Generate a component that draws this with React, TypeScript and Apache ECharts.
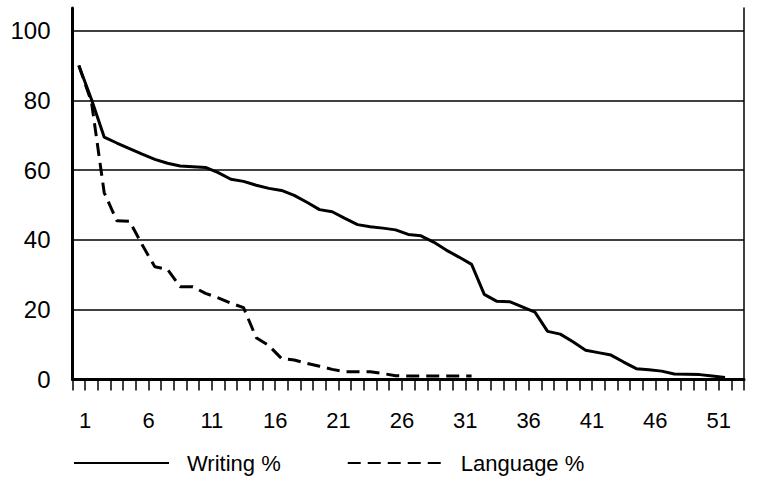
import { useEffect, useRef } from 'react';
import * as echarts from 'echarts';

// Rank positions 1..N, values in percent
const writingPct = [
  90, 80.3, 69.5, 67.8, 66.2, 64.6, 63.1, 62.0, 61.2, 61.0,
  60.8, 59.3, 57.4, 56.8, 55.7, 54.8, 54.2, 52.8, 50.8, 48.7,
  48.1, 46.2, 44.4, 43.8, 43.4, 42.9, 41.6, 41.2, 39.4, 37.1,
  35.1, 33.0, 24.4, 22.4, 22.3, 20.8, 19.3, 13.8, 13.0, 10.8,
  8.4, 7.7, 7.0, 5.0, 3.1, 2.8, 2.4, 1.6, 1.5, 1.4,
  1.0, 0.6,
];

const languagePct = [
  90, 79.5, 53.6, 45.5, 45.4, 38.6, 32.3, 31.6, 26.6, 26.6,
  24.7, 23.4, 21.9, 20.6, 12.0, 9.7, 6.0, 5.6, 4.6, 3.8,
  2.9, 2.2, 2.2, 2.2, 1.7, 1.1, 1.0, 1.0, 1.0, 1.0,
  1.0, 1.0,
];

const xTickLabels = [1, 6, 11, 16, 21, 26, 31, 36, 41, 46, 51];
const categoryCount = 53;
const seriesNames = ['Writing %', 'Language %'];

const FONT = '"Liberation Sans", Arial, Helvetica, sans-serif';

export default function App() {
  const ref = useRef<HTMLDivElement>(null);

  useEffect(() => {
    if (!ref.current) return;
    const chart = echarts.init(ref.current, null, { renderer: 'svg' });
    const toPairs = (vals: number[]) => vals.map((v, i) => [i + 0.5, v]);

    chart.setOption({
      animation: false,
      backgroundColor: '#ffffff',
      textStyle: { fontFamily: FONT, color: '#000' },
      grid: [
        { left: 72.5, right: 15, top: 30.7, bottom: 97.5 },
        { left: 72.5, right: 15, top: 8, bottom: 97.5 },
      ],
      xAxis: [
        {
          gridIndex: 0,
          type: 'value',
          min: 0,
          max: categoryCount,
          interval: 1,
          axisLine: { show: true, onZero: false, lineStyle: { color: '#000', width: 3 } },
          axisTick: { show: true, length: 11, lineStyle: { color: '#000', width: 1.5 } },
          splitLine: { show: false },
          axisLabel: {
            show: true,
            fontSize: 22,
            fontFamily: FONT,
            color: '#000',
            margin: 30,
            showMinLabel: true,
            showMaxLabel: true,
            hideOverlap: false,
            formatter: (v: number) => (xTickLabels.includes(Math.round(v)) ? String(Math.round(v)) : ''),
          },
        },
        { gridIndex: 1, type: 'value', min: 0, max: categoryCount, show: false },
      ],
      yAxis: [
        {
          gridIndex: 0,
          type: 'value',
          min: 0,
          max: 100,
          interval: 20,
          axisLine: { show: false },
          axisTick: { show: false },
          splitLine: { show: true, lineStyle: { color: '#000', width: 1.5 } },
          axisLabel: { fontSize: 24, fontFamily: FONT, color: '#000', margin: 22 },
        },
        {
          gridIndex: 1,
          type: 'value',
          min: 0,
          max: 1,
          position: 'left',
          axisLine: { show: true, lineStyle: { color: '#000', width: 3 } },
          axisTick: { show: false },
          axisLabel: { show: false },
          splitLine: { show: false },
        },
        {
          gridIndex: 1,
          type: 'value',
          min: 0,
          max: 1,
          position: 'right',
          axisLine: { show: true, lineStyle: { color: '#000', width: 1.5 } },
          axisTick: { show: false },
          axisLabel: { show: false },
          splitLine: { show: false },
        },
      ],
      legend: {
        data: seriesNames,
        left: 73,
        top: 452,
        padding: 0,
        itemWidth: 95,
        itemHeight: 14,
        itemGap: 66,
        itemStyle: { color: 'transparent', borderColor: 'transparent', borderWidth: 0 },
        textStyle: { fontSize: 22, fontFamily: FONT, color: '#000', padding: [0, 0, 0, 13] },
      },
      series: [
        {
          name: seriesNames[0],
          type: 'line',
          xAxisIndex: 0,
          yAxisIndex: 0,
          data: toPairs(writingPct),
          symbol: 'none',
          lineStyle: { color: '#000', width: 3 },
          itemStyle: { color: '#000' },
        },
        {
          name: seriesNames[1],
          type: 'line',
          xAxisIndex: 0,
          yAxisIndex: 0,
          data: toPairs(languagePct),
          symbol: 'none',
          lineStyle: { color: '#000', width: 3, type: [13, 7] },
          itemStyle: { color: '#000' },
        },
      ],
    });

    return () => chart.dispose();
  }, []);

  return (
    <div
      ref={ref}
      style={{ position: 'fixed', left: 0, top: 0, width: 759, height: 477, background: '#fff' }}
    />
  );
}
